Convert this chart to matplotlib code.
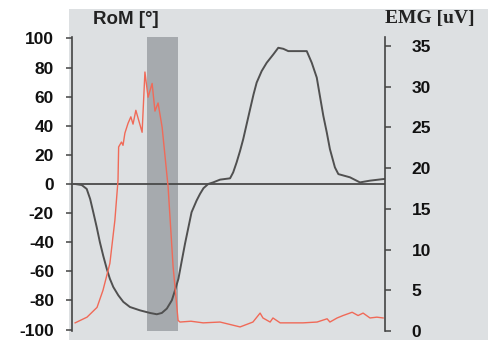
import matplotlib
matplotlib.use("Agg")
import matplotlib.pyplot as plt

# Gait cycle position (%) and range of motion (deg), left axis
rom_x = [0, 1.0, 3.1, 4.7, 5.8, 6.8, 7.9, 8.9, 10.0, 11.1, 12.1, 13.2, 14.8, 16.4, 18.5,
         21.7, 24.9, 27.1, 28.7, 30.3, 31.9, 32.9, 34.0, 35.0, 36.1, 37.2, 38.2, 39.8,
         40.9, 42.0, 43.5, 45.1, 47.3, 50.5, 51.5, 52.6, 53.7, 54.7, 55.8, 56.9, 58.0,
         59.0, 60.6, 62.2, 64.3, 65.9, 67.5, 69.1, 75.0, 76.6, 78.2, 79.2, 80.3, 81.4,
         82.4, 84.0, 85.1, 88.8, 92.0, 95.2, 99.5, 100]
rom_y = [0, 0, -0.7, -3.4, -10.3, -19.4, -29.7, -39.9, -49.5, -58.2, -65.1, -70.8, -76.5,
         -81.0, -84.5, -86.8, -88.6, -89.5, -88.6, -85.6, -79.9, -73.1, -65.1, -53.6,
         -41.1, -29.7, -19.4, -11.4, -6.8, -2.9, 0.0, 1.1, 3.0, 3.9, 8.0, 14.9, 22.8,
         30.8, 41.1, 51.4, 61.6, 69.7, 77.6, 83.3, 89.0, 93.6, 92.9, 91.3, 91.3, 83.3,
         73.1, 60.5, 46.8, 35.4, 24.0, 11.4, 6.8, 4.6, 1.1, 2.3, 3.4, 3.4]

# EMG (uV), right axis
emg_x = [1.0, 4.8, 8.0, 9.9, 12.1, 13.7, 14.7, 14.9, 15.8, 16.3, 16.9, 17.9, 18.8, 19.5,
         20.4, 22.4, 23.3, 24.3, 25.6, 26.5, 27.5, 28.8, 30.7, 32.3, 33.9, 34.5, 38.0,
         41.9, 47.3, 50.5, 53.7, 57.8, 60.1, 61.0, 63.3, 64.2, 66.5, 69.6, 73.8, 78.3,
         81.5, 82.4, 84.7, 86.6, 89.5, 91.4, 93.0, 95.2, 97.4, 99.4]
emg_y = [1.0, 1.7, 2.9, 5.0, 8.3, 13.6, 18.5, 22.6, 23.2, 22.8, 24.3, 25.5, 26.3, 25.4,
         27.1, 24.4, 31.8, 28.7, 30.4, 27.0, 28.0, 25.0, 17.7, 7.9, 1.3, 1.1, 1.2,
         1.0, 1.1, 0.8, 0.5, 1.1, 2.2, 1.6, 1.1, 1.6, 1.0, 1.0, 1.0, 1.1,
         1.5, 1.1, 1.6, 1.9, 2.3, 1.9, 2.2, 1.6, 1.7, 1.6]

span_x = (24.0, 33.9)
rom_ticks = [-100, -80, -60, -40, -20, 0, 20, 40, 60, 80, 100]
emg_ticks = [0, 5, 10, 15, 20, 25, 30, 35]

W, H = 489, 340
fig = plt.figure(figsize=(W / 100, H / 100), dpi=100)
fig.patch.set_facecolor("white")

bg = fig.add_axes([69 / W, 0, 1 - 69 / W, 1 - 9 / H], zorder=-5)
bg.set_facecolor("#dde0e2")
bg.set_xticks([])
bg.set_yticks([])
for s in bg.spines.values():
    s.set_visible(False)

ax = fig.add_axes([72 / W, (H - 331) / H, (385 - 72) / W, (331 - 37) / H])
ax.set_facecolor("none")
ax.set_xlim(0, 100)
ax.set_ylim(-101, 101)
ax.axvspan(span_x[0], span_x[1], color="#a6aaae", zorder=1, lw=0)
ax.axhline(0, color="#4a4a4a", lw=1.3, zorder=2)
ax.plot(rom_x, rom_y, color="#505050", lw=1.4, zorder=4)

ax2 = ax.twinx()
ax2.set_ylim(0, 36.1)
ax2.plot(emg_x, emg_y, color="#f06a58", lw=1.0, zorder=3)

for a in (ax, ax2):
    a.spines["top"].set_visible(False)
    a.spines["bottom"].set_visible(False)
    a.set_xticks([])
ax.spines["right"].set_visible(False)
ax2.spines["left"].set_visible(False)
ax.spines["left"].set_color("#444444")
ax2.spines["right"].set_color("#444444")
ax.spines["left"].set_linewidth(1.2)
ax2.spines["right"].set_linewidth(1.2)

tick_font = dict(fontfamily="Liberation Sans", fontweight="bold", fontsize=12.5,
                 color="#111111")
ax.set_yticks(rom_ticks)
ax.set_yticklabels([str(t) for t in rom_ticks], **tick_font)
ax.tick_params(axis="y", direction="out", length=4, width=1.1, color="#444444", pad=9)
ax2.set_yticks(emg_ticks)
ax2.set_yticklabels([str(t) for t in emg_ticks], **tick_font)
ax2.tick_params(axis="y", direction="out", length=4, width=1.1, color="#444444", pad=15)

fig.text(93 / W, 1 - 19 / H, "RoM [°]", fontfamily="Liberation Sans",
         fontweight="bold", fontsize=13.5, ha="left", va="center", color="#222222")
fig.text(385 / W, 1 - 18 / H, "EMG [uV]", fontfamily="Liberation Serif",
         fontweight="bold", fontsize=14, ha="left", va="center", color="#222222")

fig.savefig("out.png", dpi=100)
